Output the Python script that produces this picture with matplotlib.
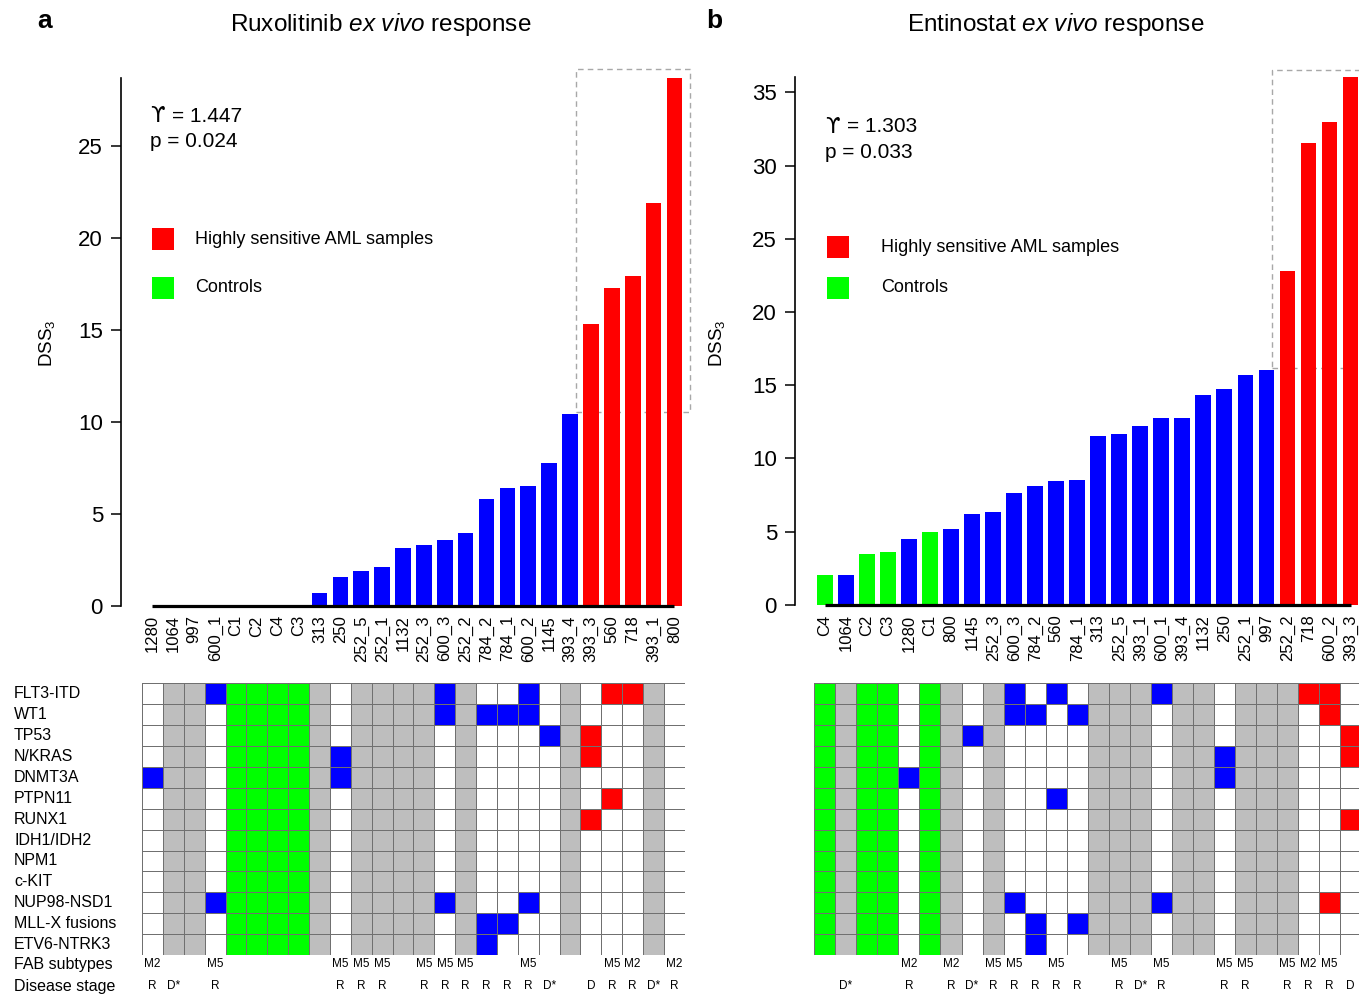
import numpy as np
import matplotlib
matplotlib.use("Agg")
import matplotlib.pyplot as plt
from matplotlib.colors import ListedColormap
from matplotlib.patches import Rectangle
from matplotlib.transforms import blended_transform_factory

plt.rcParams['font.family'] = ['Liberation Sans', 'DejaVu Sans']
plt.rcParams['mathtext.fontset'] = 'custom'
plt.rcParams['mathtext.rm'] = 'Liberation Sans'
plt.rcParams['mathtext.it'] = 'Liberation Sans:italic'
plt.rcParams['mathtext.default'] = 'regular'

# --- data ---
rux_samples = ['1280', '1064', '997', '600_1', 'C1', 'C2', 'C4', 'C3', '313', '250',
               '252_5', '252_1', '1132', '252_3', '600_3', '252_2', '784_2', '784_1',
               '600_2', '1145', '393_4', '393_3', '560', '718', '393_1', '800']
rux_dss = [0, 0, 0, 0, 0, 0, 0, 0, 0.66, 1.55, 1.90, 2.08, 3.13, 3.28, 3.55, 3.95,
           5.78, 6.38, 6.48, 7.74, 10.39, 15.28, 17.28, 17.92, 21.85, 28.68]
rux_high = ['393_3', '560', '718', '393_1', '800']
rux_nodata = ['1064', '997', '313', '252_5', '252_1', '1132', '252_3', '252_2',
              '393_4', '393_1']
rux_stats = ['1.447', '0.024']

ent_samples = ['C4', '1064', 'C2', 'C3', '1280', 'C1', '800', '1145', '252_3', '600_3',
               '784_2', '560', '784_1', '313', '252_5', '393_1', '600_1', '393_4',
               '1132', '250', '252_1', '997', '252_2', '718', '600_2', '393_3']
ent_dss = [2.02, 2.06, 3.48, 3.58, 4.47, 4.96, 5.16, 6.20, 6.34, 7.60, 8.10, 8.44,
           8.52, 11.52, 11.65, 12.19, 12.73, 12.74, 14.30, 14.70, 15.68, 16.05,
           22.81, 31.56, 32.95, 36.04]
ent_high = ['252_2', '718', '600_2', '393_3']
ent_nodata = ['1064', '800', '252_3', '313', '252_5', '393_1', '393_4', '1132',
              '252_1', '997', '252_2']
ent_stats = ['1.303', '0.033']

controls = ['C1', 'C2', 'C3', 'C4']

genes = ['FLT3-ITD', 'WT1', 'TP53', 'N/KRAS', 'DNMT3A', 'PTPN11', 'RUNX1',
         'IDH1/IDH2', 'NPM1', 'c-KIT', 'NUP98-NSD1', 'MLL-X fusions', 'ETV6-NTRK3']
mutations = {
    'FLT3-ITD': ['600_1', '600_3', '600_2', '560', '718'],
    'WT1': ['600_3', '784_2', '784_1', '600_2'],
    'TP53': ['1145', '393_3'],
    'N/KRAS': ['250', '393_3'],
    'DNMT3A': ['1280', '250'],
    'PTPN11': ['560'],
    'RUNX1': ['393_3'],
    'IDH1/IDH2': [],
    'NPM1': [],
    'c-KIT': [],
    'NUP98-NSD1': ['600_1', '600_3', '600_2'],
    'MLL-X fusions': ['784_2', '784_1'],
    'ETV6-NTRK3': ['784_2'],
}
fab = {'1280': 'M2', '600_1': 'M5', '250': 'M5', '252_5': 'M5', '252_1': 'M5',
       '252_3': 'M5', '600_3': 'M5', '252_2': 'M5', '600_2': 'M5', '560': 'M5',
       '718': 'M2', '800': 'M2'}
stage = {'1280': 'R', '1064': 'D*', '600_1': 'R', '250': 'R', '252_5': 'R',
         '252_1': 'R', '252_3': 'R', '600_3': 'R', '252_2': 'R', '784_2': 'R',
         '784_1': 'R', '600_2': 'R', '1145': 'D*', '393_3': 'D', '560': 'R',
         '718': 'R', '393_1': 'D*', '800': 'R'}

W, H = 1359, 994
fig = plt.figure(figsize=(W / 100, H / 100), dpi=100)


def rect(x0, y0, x1, y1):
    return [x0 / W, 1 - y1 / H, (x1 - x0) / W, (y1 - y0) / H]


def fx(x):
    return x / W


def fy(y):
    return 1 - y / H


panels = [
    dict(samples=rux_samples, dss=rux_dss, high=rux_high, nodata=rux_nodata,
         title=r'Ruxolitinib $\it{ex\ vivo}$ response', letter='a', stats=rux_stats,
         spine=121, x0=142, pitch=20.88, right=685, zero=605.5, scale=18.4,
         ticks=range(0, 30, 5), title_x=381, letter_x=45, ylab_x=47,
         stat_y=(116, 142), leg_x=152, leg_y=(239, 288), leg_tx=195, row_labels=True),
    dict(samples=ent_samples, dss=ent_dss, high=ent_high, nodata=ent_nodata,
         title=r'Entinostat $\it{ex\ vivo}$ response', letter='b', stats=ent_stats,
         spine=795, x0=814.3, pitch=21.03, right=1359, zero=604.7, scale=14.64,
         ticks=range(0, 40, 5), title_x=1056, letter_x=714, ylab_x=717,
         stat_y=(127, 153), leg_x=827, leg_y=(247, 288), leg_tx=881, row_labels=False),
]

RED, GREEN, BLUE, GRAY = '#FF0000', '#00FF00', '#0000FF', '#BEBEBE'
cmap = ListedColormap(['white', GRAY, GREEN, BLUE, RED])
top_px = 60
row_top, row_h = 683.3, 20.9

for p in panels:
    n = len(p['samples'])
    colors = []
    for s in p['samples']:
        if s in controls:
            colors.append(GREEN)
        elif s in p['high']:
            colors.append(RED)
        else:
            colors.append(BLUE)

    # bar chart
    ax = fig.add_axes(rect(p['spine'], top_px, p['right'], p['zero']))
    x = np.arange(n)
    ax.bar(x, p['dss'], width=0.75, color=colors, edgecolor='none', zorder=2)
    ax.set_xlim(-0.5 - (p['x0'] - p['spine']) / p['pitch'],
                -0.5 + (p['right'] - p['x0']) / p['pitch'])
    ax.set_ylim(0, (p['zero'] - top_px) / p['scale'])
    ax.plot([0, n - 1], [0, 0], color='black', lw=2.3, solid_capstyle='butt',
            zorder=3, clip_on=False)
    for side in ['top', 'right', 'bottom']:
        ax.spines[side].set_visible(False)
    ax.spines['left'].set_bounds(0, max(p['dss']))
    ax.spines['left'].set_linewidth(1.2)
    ax.set_yticks(list(p['ticks']))
    ax.tick_params(axis='y', length=7, width=1.1, pad=6, labelsize=16)
    ax.set_xticks(x)
    ax.set_xticklabels(p['samples'], rotation=90, fontsize=12)
    ax.tick_params(axis='x', length=0, pad=7)

    # dashed box round the highly sensitive samples
    first_high = min(p['samples'].index(s) for s in p['high'])
    bx0 = first_high - 1 + 0.28
    by0 = p['dss'][first_high - 1] + 0.12
    by1 = max(p['dss']) + 0.5
    ax.add_patch(Rectangle((bx0, by0), n - 0.26 - bx0, by1 - by0, fill=False,
                           ls=(0, (4, 3)), lw=1, ec='#A8A8A8', clip_on=False, zorder=1))

    # texts
    fig.text(fx(p['title_x']), fy(24), p['title'], ha='center', va='center', fontsize=17.5)
    fig.text(fx(p['letter_x']), fy(21), p['letter'], ha='center', va='center',
             fontsize=19, fontweight='bold')
    fig.text(fx(p['ylab_x']), fy(343), 'DSS$_3$', rotation=90, ha='center',
             va='center', fontsize=13.5)
    sx = p['leg_x'] - 2
    fig.text(fx(sx), fy(p['stat_y'][0]), '\u03d2', ha='left', va='center',
             fontsize=15, family='DejaVu Sans')
    fig.text(fx(sx + 22), fy(p['stat_y'][0]), '= ' + p['stats'][0], ha='left',
             va='center', fontsize=15)
    fig.text(fx(sx), fy(p['stat_y'][1]), 'p = ' + p['stats'][1], ha='left',
             va='center', fontsize=15)
    for col, lab, yy in zip([RED, GREEN], ['Highly sensitive AML samples', 'Controls'],
                            p['leg_y']):
        fig.patches.append(Rectangle((fx(p['leg_x']), fy(yy + 11)), 22 / W, 22 / H,
                                     transform=fig.transFigure, fc=col, ec='none'))
        fig.text(fx(p['leg_tx']), fy(yy), lab, ha='left', va='center', fontsize=13)

    # mutation heatmap
    codes = np.zeros((len(genes), n))
    for j, s in enumerate(p['samples']):
        if s in controls:
            codes[:, j] = 2
        elif s in p['nodata']:
            codes[:, j] = 1
        for i, g in enumerate(genes):
            if s in mutations[g]:
                codes[i, j] = 4 if s in p['high'] else 3
    hx = fig.add_axes(rect(p['x0'], row_top, p['x0'] + n * p['pitch'],
                           row_top + len(genes) * row_h))
    hx.pcolormesh(np.arange(n + 1) - 0.5, np.arange(len(genes) + 1) - 0.5, codes,
                  cmap=cmap, vmin=-0.5, vmax=4.5, edgecolors='#707070', linewidth=0.6)
    hx.set_xlim(-0.5, n - 0.5)
    hx.set_ylim(len(genes) - 0.5, -0.5)
    hx.axis('off')

    fab_y = -0.5 + (964 - row_top) / row_h
    stage_y = -0.5 + (986 - row_top) / row_h
    for j, s in enumerate(p['samples']):
        if s in fab:
            hx.text(j, fab_y, fab[s], ha='center', va='center', fontsize=8.5, clip_on=False)
        if s in stage:
            hx.text(j, stage_y, stage[s], ha='center', va='center', fontsize=8.5,
                    clip_on=False)

    if p['row_labels']:
        tr = blended_transform_factory(fig.transFigure, hx.transData)
        for i, g in enumerate(genes):
            hx.text(fx(14), i, g, transform=tr, ha='left', va='center', fontsize=11.5)
        hx.text(fx(14), fab_y, 'FAB subtypes', transform=tr, ha='left', va='center',
                fontsize=11.5)
        hx.text(fx(14), stage_y, 'Disease stage', transform=tr, ha='left', va='center',
                fontsize=11.5)

fig.savefig('out.png', dpi=100)
